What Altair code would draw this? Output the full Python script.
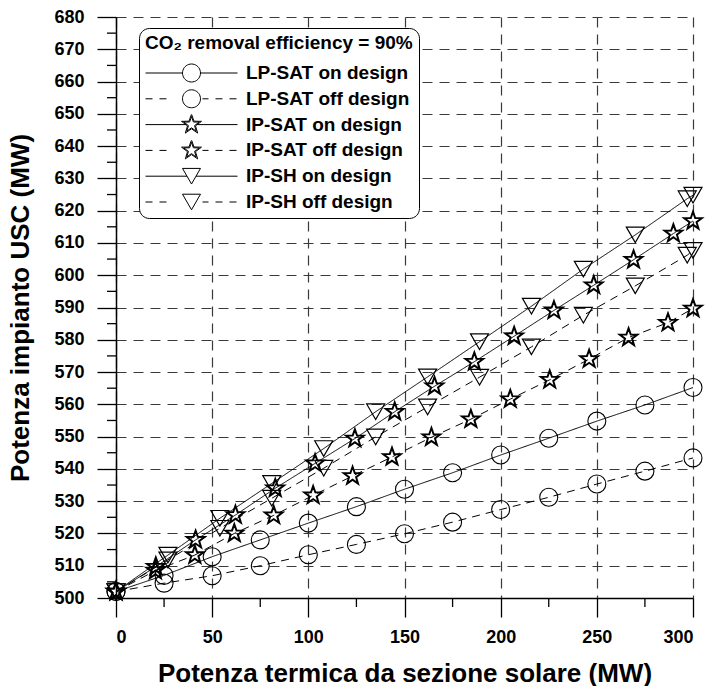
import math
import altair as alt
import pandas as pd

# ---- data -------------------------------------------------------------
# LP-SAT integration (circles)
lp_x = [0, 25, 50, 75, 100, 125, 150, 175, 200, 225, 250, 275, 300]
lp_on = [502, 507, 512.8, 518, 523.2, 528.3, 533.7, 538.8, 544.3, 549.5, 554.8, 559.8, 565.2]
lp_off = [502, 504.6, 506.9, 510, 513.4, 516.6, 519.9, 523.5, 527.4, 531.2, 535.3, 539.3, 543.4]

# IP-SAT integration (stars)
ipsat_on_x = [0, 20.7, 41.4, 62.1, 82.8, 103.5, 124.2, 144.9, 165.6, 186.3, 207.0, 227.7, 248.4, 269.1, 289.8, 300]
ipsat_on = [502, 509.7, 518, 525.7, 534, 541.7, 549.4, 557.7, 565.6, 573.2, 581.1, 589.1, 596.9, 604.8, 612.9, 616.8]
ipsat_off_x = [0, 20.5, 41, 61.5, 82, 102.5, 123, 143.5, 164, 184.5, 205, 225.5, 246, 266.5, 287, 300]
ipsat_off = [502, 508.5, 513.3, 520, 525.6, 531.8, 537.8, 543.7, 549.8, 555.4, 561.6, 567.6, 574, 580.7, 585.3, 589.7]

# IP-SH integration (down triangles)
ipsh_x = [0, 27, 54, 81, 108, 135, 162, 189, 216, 243, 270, 297, 300]
ipsh_on = [502, 513.3, 524.7, 535.5, 546.3, 557.7, 568.5, 579.4, 590.4, 601.9, 612.5, 623.7, 624.8]
ipsh_off = [502, 511.8, 521.6, 530.9, 540.2, 549.9, 559.2, 568.4, 577.8, 587.6, 596.7, 606.2, 607.7]

series_names = [
    "LP-SAT on design", "LP-SAT off design",
    "IP-SAT on design", "IP-SAT off design",
    "IP-SH on design", "IP-SH off design",
]
legend_title = "CO\u2082 removal efficiency = 90%"
x_title = "Potenza termica da sezione solare (MW)"
y_title = "Potenza impianto USC (MW)"
x_major = list(range(0, 301, 50))
x_minor = list(range(25, 300, 50))
y_major = list(range(500, 681, 10))
y_minor = list(range(505, 680, 10))

series_def = [
    (series_names[0], lp_x, lp_on, "circle", "on"),
    (series_names[1], lp_x, lp_off, "circle", "off"),
    (series_names[2], ipsat_on_x, ipsat_on, "star", "on"),
    (series_names[3], ipsat_off_x, ipsat_off, "star", "off"),
    (series_names[4], ipsh_x, ipsh_on, "tri", "on"),
    (series_names[5], ipsh_x, ipsh_off, "tri", "off"),
]
rows = []
for name, xs, ys, marker, mode in series_def:
    for xv, yv in zip(xs, ys):
        rows.append({"series": name, "x": xv, "y": yv, "marker": marker, "mode": mode})
df = pd.DataFrame(rows)


def star_polygon(r_out, r_in):
    pts = []
    for k in range(10):
        r = r_out if k % 2 == 0 else r_in
        a = -math.pi / 2 + k * math.pi / 5
        pts.append((r * math.cos(a), r * math.sin(a)))
    return pts


def path_of(pts, scale=1.0):
    return "M" + "L".join(f"{px / scale:.4f},{py / scale:.4f}" for px, py in pts) + "Z"


# Vega has no built-in star: a double-outlined star as a custom path
# in unit coordinates (1 unit = sqrt(size)/2 px)
star_shape = path_of(star_polygon(1.17, 0.47)) + path_of(star_polygon(0.9, 0.36))

# ---- legend samples: line + marker drawn as one custom symbol path ----
HALF = 46.0  # half-length of a legend sample, px


def u(v):
    return f"{v / HALF:.4f}"


def segments(parts):
    return "".join(f"M{u(a)},0L{u(b)},0" for a, b in parts)


circle_pts = [(9 * math.cos(2 * math.pi * k / 40), 9 * math.sin(2 * math.pi * k / 40)) for k in range(40)]
h = 9 * math.sqrt(3) / 2
tri_pts = [(-9, -h), (9, -h), (0, h)]

solid_for = {"circle": [(-46, -9), (9, 46)], "star": [(-46, -5), (5, 46)], "tri": [(-46, -4.5), (4.5, 46)]}
dashed = [(-46, -39), (-32, -25), (11, 17), (24, 31), (38, 45)]
marker_path = {
    "circle": path_of(circle_pts, HALF),
    "star": path_of(star_polygon(10.5, 4.2), HALF) + path_of(star_polygon(8.1, 3.2), HALF),
    "tri": path_of(tri_pts, HALF),
}
legend_paths = []
for name, xs, ys, marker, mode in series_def:
    lines = segments(solid_for[marker]) if mode == "on" else segments(dashed)
    legend_paths.append(lines + marker_path[marker])

legend_df = pd.DataFrame({"series": series_names, "x": [-200] * 6, "y": [600] * 6})

FONT = "Liberation Sans"

axis_common = dict(
    gridDash=[10, 7],
    gridColor="#3a3a3a",
    gridWidth=1.2,
    domainColor="black",
    domainWidth=1.5,
    tickColor="black",
    tickWidth=1.3,
    tickSize=19,
    labelFont=FONT,
    labelFontSize=18,
    labelFontWeight="bold",
    labelColor="black",
    labelOverlap=False,
    titleFont=FONT,
    titleFontSize=26,
    titleFontWeight="bold",
    titleColor="black",
    titleAlign="center",
    titleBaseline="middle",
)

x_enc = alt.X(
    "x:Q",
    scale=alt.Scale(domain=[0, 300], nice=False, zero=False),
    axis=alt.Axis(values=x_major, title=x_title, labelPadding=11, titleX=288.5, titleY=75, **axis_common),
)
y_enc = alt.Y(
    "y:Q",
    scale=alt.Scale(domain=[500, 680], nice=False, zero=False),
    axis=alt.Axis(values=y_major, title=y_title, labelPadding=13, titleX=-96, titleY=290.5,
                  titleAngle=270, **axis_common),
)

lines = alt.Chart(df).mark_line(color="black", strokeWidth=1).encode(
    x=x_enc,
    y=y_enc,
    detail="series:N",
    order="x:Q",
    strokeDash=alt.StrokeDash(
        "mode:N",
        scale=alt.Scale(domain=["on", "off"], range=[[1, 0], [8, 6]]),
        legend=None,
    ),
)

points = alt.Chart(df).mark_point(filled=False, color="black", opacity=1, size=324).encode(
    x=x_enc,
    y=y_enc,
    shape=alt.Shape(
        "marker:N",
        scale=alt.Scale(domain=["circle", "star", "tri"], range=["circle", star_shape, "triangle-down"]),
        legend=None,
    ),
    strokeWidth=alt.StrokeWidth(
        "marker:N",
        scale=alt.Scale(domain=["circle", "star", "tri"], range=[1.1, 1.2, 1.1]),
        legend=None,
    ),
)

# short minor ticks outside the plot area
x_minor_ticks = alt.Chart(pd.DataFrame({"x": x_minor})).mark_rule(
    color="black", strokeWidth=1.3, clip=False
).encode(x=x_enc, y=alt.value(581), y2=alt.value(590))
y_minor_ticks = alt.Chart(pd.DataFrame({"y": y_minor})).mark_rule(
    color="black", strokeWidth=1.3, clip=False
).encode(y=y_enc, x=alt.value(-9), x2=alt.value(0))

legend_layer = alt.Chart(legend_df).mark_point(
    filled=False, color="black", opacity=1, size=8464, clip=True
).encode(
    x=x_enc,
    y=y_enc,
    shape=alt.Shape(
        "series:N",
        scale=alt.Scale(domain=series_names, range=legend_paths),
        sort=series_names,
        legend=alt.Legend(
            title=legend_title,
            orient="none",
            legendX=23,
            legendY=11,
            direction="vertical",
            padding=6,
            fillColor="white",
            strokeColor="black",
            cornerRadius=10,
            titleFont=FONT,
            titleFontSize=19,
            titleFontWeight="bold",
            titleColor="black",
            titlePadding=10,
            titleLimit=400,
            labelFont=FONT,
            labelFontSize=19,
            labelFontWeight="bold",
            labelColor="black",
            labelOffset=8,
            labelLimit=400,
            symbolSize=8464,
            symbolStrokeWidth=1,
            symbolStrokeColor="black",
            symbolFillColor="transparent",
            symbolOpacity=1,
            clipHeight=20,
            rowPadding=5.8,
        ),
    ),
)

chart = (
    alt.layer(lines, points, x_minor_ticks, y_minor_ticks, legend_layer)
    .resolve_scale(shape="independent")
    .properties(
        width=577,
        height=581,
        autosize=alt.AutoSizeParams(type="none"),
        padding={"left": 116, "top": 17, "right": 19, "bottom": 88},
        background="white",
    )
    .configure_view(stroke=None)
)

chart.save("out.html", embed_options={"renderer": "svg", "actions": False})
